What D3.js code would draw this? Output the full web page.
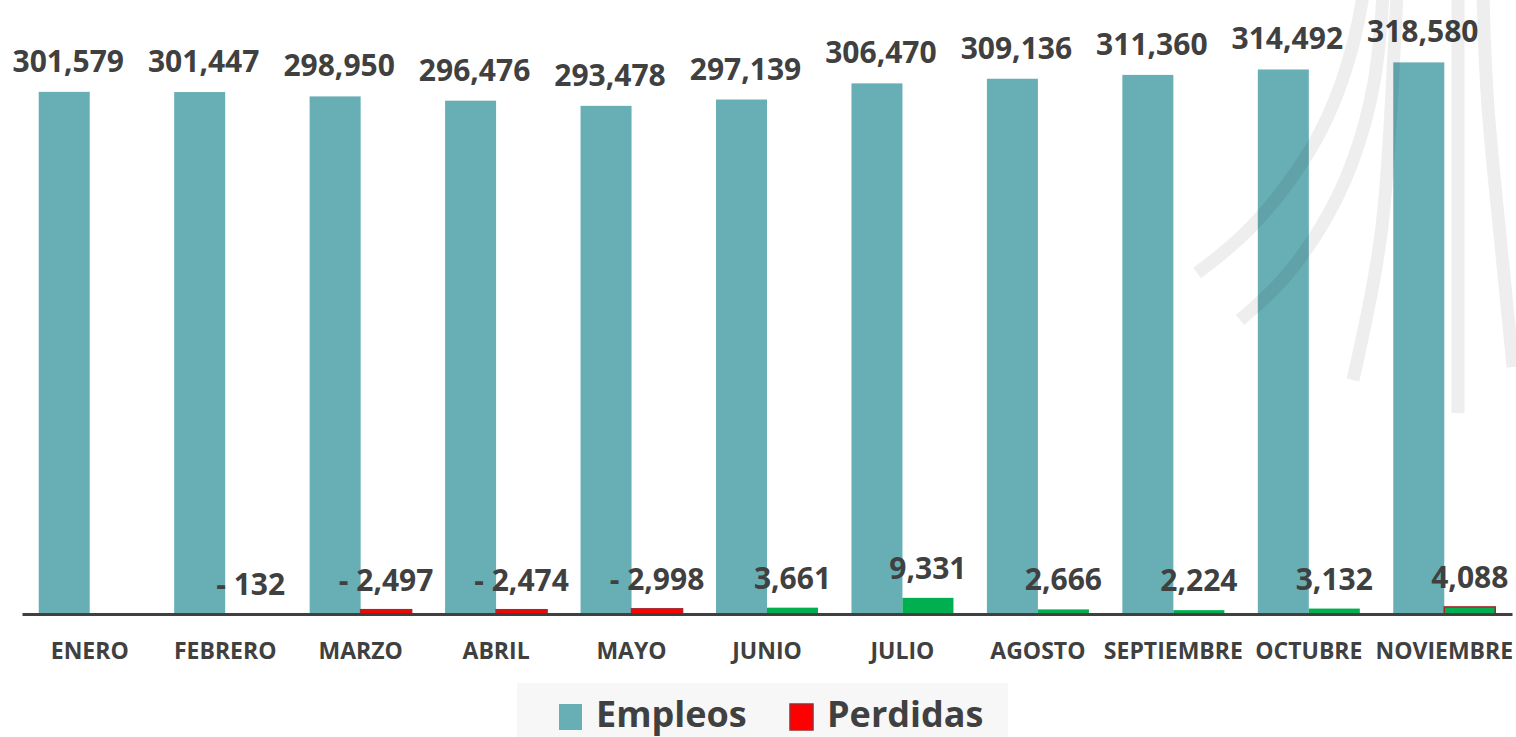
<!DOCTYPE html>
<html>
<head>
<meta charset="utf-8">
<script src="https://cdn.jsdelivr.net/npm/d3@7"></script>
<style>
  body { margin: 0; background: #fff; }
  svg { display: block; }
  .lbl { font-family: "Open Sans", sans-serif; font-weight: 700; fill: #404040; }
</style>
</head>
<body>
<div id="chart"></div>
<script>
// datos
const meses = ['ENERO', 'FEBRERO', 'MARZO', 'ABRIL', 'MAYO', 'JUNIO', 'JULIO', 'AGOSTO', 'SEPTIEMBRE', 'OCTUBRE', 'NOVIEMBRE'];
const empleos = [301579, 301447, 298950, 296476, 293478, 297139, 306470, 309136, 311360, 314492, 318580];
const perdidas = [null, -132, -2497, -2474, -2998, 3661, 9331, 2666, 2224, 3132, 4088];
const series = ['Empleos', 'Perdidas'];

const width = 1516, height = 737;
const colorEmpleos = '#67aeb5';
const colorNeg = '#ff0000', colorPos = '#00b050', bordeRojo = '#a3282b';

const svg = d3.select('#chart')
  .append('svg')
  .attr('width', width)
  .attr('height', height);

const x = d3.scaleBand()
  .domain(meses)
  .range([22, 1512])
  .padding(0);

const xs = d3.scaleBand()
  .domain(series)
  .range([0, x.bandwidth()])
  .paddingInner(0)
  .paddingOuter(0.328);

const y = d3.scaleLinear()
  .domain([0, 350000])
  .range([614, 8]);

const fmt = d3.format(',');

// barras Empleos
svg.selectAll('.bar-emp')
  .data(meses)
  .enter()
  .append('rect')
  .attr('class', 'bar-emp')
  .attr('x', (d) => x(d) + xs('Empleos'))
  .attr('width', xs.bandwidth())
  .attr('y', (d, i) => y(empleos[i]))
  .attr('height', (d, i) => y(0) - y(empleos[i]))
  .attr('fill', colorEmpleos);

// barras Perdidas (se dibujan hacia arriba con el valor absoluto)
const perd = meses.map((m, i) => ({ mes: m, v: perdidas[i], i: i })).filter(d => d.v !== null);

svg.selectAll('.bar-per')
  .data(perd)
  .enter()
  .append('rect')
  .attr('class', 'bar-per')
  .attr('x', d => x(d.mes) + xs('Perdidas'))
  .attr('width', xs.bandwidth())
  .attr('y', d => y(Math.abs(d.v)))
  .attr('height', d => y(0) - y(Math.abs(d.v)))
  .attr('fill', d => d.v < 0 ? colorNeg : colorPos)
  .attr('stroke', d => (d.v < 0 || d.i === meses.length - 1) ? bordeRojo : 'none')
  .attr('stroke-width', 1.5);

// etiquetas
svg.selectAll('.lbl-emp')
  .data(meses)
  .enter()
  .append('text')
  .attr('class', 'lbl')
  .attr('x', d => x(d) + xs('Empleos') + xs.bandwidth() / 2 + 4)
  .attr('y', (d, i) => y(empleos[i]) - 20)
  .attr('text-anchor', 'middle')
  .style('font-size', '30px')
  .text((d, i) => fmt(empleos[i]));

svg.selectAll('.lbl-per')
  .data(perd)
  .enter()
  .append('text')
  .attr('class', 'lbl')
  .attr('x', d => x(d.mes) + xs('Perdidas') + xs.bandwidth() / 2)
  .attr('y', d => y(Math.abs(d.v)) - 19)
  .attr('text-anchor', 'middle')
  .style('font-size', '30px')
  .text(d => (d.v < 0 ? '- ' : '') + fmt(Math.abs(d.v)));

// eje x
const axis = svg.append('g')
  .attr('transform', `translate(0, ${y(0)})`)
  .call(d3.axisBottom(x).tickSize(0).tickSizeOuter(0).tickPadding(29));

axis.select('.domain')
  .attr('stroke', '#404040')
  .attr('stroke-width', 3);

axis.selectAll('text')
  .attr('class', 'lbl')
  .style('font-size', '23px');

// marca de agua (decorativa)
const wm = svg.append('g')
  .attr('fill', 'none')
  .attr('stroke', '#000')
  .attr('stroke-opacity', 0.065)
  .attr('stroke-width', 13)
  .attr('stroke-linecap', 'butt')
  .style('pointer-events', 'none');

const curva = d3.line().curve(d3.curveBasis);
[
  [[1197, 273], [1250, 233], [1307, 160], [1337, 100], [1357, 33], [1363, -5]],
  [[1240, 320], [1283, 283], [1323, 227], [1353, 167], [1377, 83], [1383, -5]],
  [[1353, 380], [1367, 317], [1383, 233], [1390, 133], [1397, -5]],
  [[1458, 413], [1458, 200], [1458, -5]],
  [[1513, 367], [1500, 233], [1486, 100], [1483, -5]]
].forEach(p => wm.append('path').attr('d', curva(p)));

// leyenda
const leg = svg.append('g');
leg.append('rect')
  .attr('x', 517).attr('y', 683)
  .attr('width', 491).attr('height', 54)
  .attr('fill', '#f7f7f7');

const legItems = [
  { name: 'Empleos', x: 559, fill: colorEmpleos, stroke: 'none' },
  { name: 'Perdidas', x: 790, fill: colorNeg, stroke: bordeRojo }
];

legItems.forEach(it => {
  leg.append('rect')
    .attr('x', it.x).attr('y', 704)
    .attr('width', 23).attr('height', 26)
    .attr('fill', it.fill)
    .attr('stroke', it.stroke)
    .attr('stroke-width', 1.5);
  leg.append('text')
    .attr('class', 'lbl')
    .attr('x', it.x + 37)
    .attr('y', 727)
    .style('font-size', '36px')
    .text(it.name);
});
</script>
</body>
</html>
